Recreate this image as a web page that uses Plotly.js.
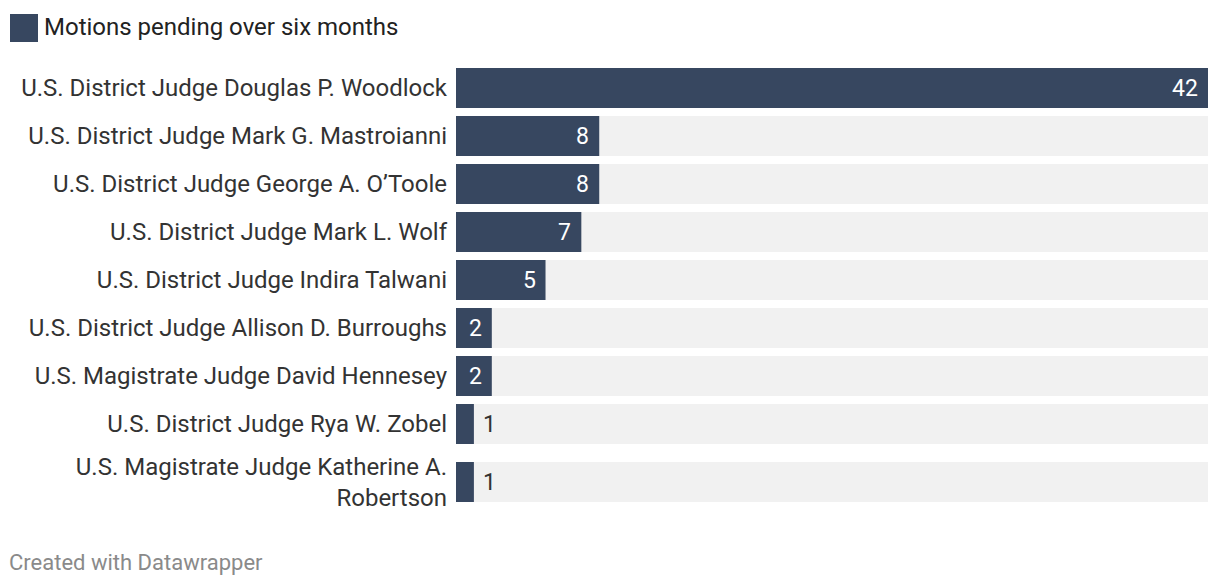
<!DOCTYPE html>
<html>
<head>
<meta charset="utf-8">
<script src="https://cdn.plot.ly/plotly-3.0.1.min.js"></script>
<style>
  html, body { margin: 0; padding: 0; background: #ffffff; }
  #chart { width: 1220px; height: 586px; }
</style>
</head>
<body>
<div id="chart"></div>
<script>
// ---- data ----
const judges = [
  "U.S. District Judge Douglas P. Woodlock",
  "U.S. District Judge Mark G. Mastroianni",
  "U.S. District Judge George A. O’Toole",
  "U.S. District Judge Mark L. Wolf",
  "U.S. District Judge Indira Talwani",
  "U.S. District Judge Allison D. Burroughs",
  "U.S. Magistrate Judge David Hennesey",
  "U.S. District Judge Rya W. Zobel",
  "U.S. Magistrate Judge Katherine A.<br>Robertson"
];
const motionsPending = [42, 8, 8, 7, 5, 2, 2, 1, 1];
const seriesName = "Motions pending over six months";
const footerText = "Created with Datawrapper";

// ---- styles ----
const barColor = "#374760";
const bgColor = "#f1f1f1";
const fontFamily = "Roboto, 'Noto Sans', sans-serif";
const maxVal = Math.max(...motionsPending);

// row layout (in pixel-like units): fixed pitch, extra room per extra label line
const rowPitch = 48, extraLinePad = 10, barThickness = 40;
const rowPos = [];
judges.forEach((lbl, i) => {
  const extra = (lbl.split("<br>").length - 1) * extraLinePad;
  rowPos.push(i === 0 ? 0 : rowPos[i - 1] + rowPitch + extra);
});
const yMax = rowPos[rowPos.length - 1] + barThickness / 2;
const yMin = -barThickness / 2;

const bgTrace = {
  type: "bar",
  orientation: "h",
  x: judges.map(() => maxVal),
  y: rowPos,
  marker: { color: bgColor },
  width: barThickness,
  hoverinfo: "skip",
  showlegend: false
};

const mainTrace = {
  type: "bar",
  orientation: "h",
  name: seriesName,
  x: motionsPending,
  y: rowPos,
  marker: { color: barColor },
  width: barThickness,
  showlegend: false
};

const insideThreshold = 2;
const valueAnnotations = motionsPending.map((v, i) => {
  const inside = v >= insideThreshold;
  return {
    x: v, y: rowPos[i], xref: "x", yref: "y",
    text: String(v), showarrow: false,
    xanchor: inside ? "right" : "left",
    xshift: inside ? -8 : 7,
    font: { family: fontFamily, size: 23, color: inside ? "#ffffff" : "#333333" }
  };
});

const layout = {
  width: 1220, height: 586,
  paper_bgcolor: "#ffffff", plot_bgcolor: "#ffffff",
  margin: { l: 456, r: 12, t: 68, b: 84 },
  barmode: "overlay",
  showlegend: false,
  font: { family: fontFamily, size: 24, color: "#333333" },
  xaxis: { range: [0, maxVal], visible: false, fixedrange: true },
  yaxis: {
    type: "linear",
    range: [yMax, yMin],
    tickmode: "array", tickvals: rowPos, ticktext: judges,
    showgrid: false, zeroline: false, showline: false,
    ticks: "", ticklabelstandoff: 8,
    tickfont: { family: fontFamily, size: 24, color: "#333333" },
    fixedrange: true
  },
  shapes: [{
    type: "rect", xref: "paper", yref: "paper",
    x0: 10, x1: 38, y0: -14, y1: -42,
    xsizemode: "pixel", ysizemode: "pixel",
    xanchor: -456 / 752, yanchor: 1 + 68 / 434,
    fillcolor: barColor, line: { width: 0 }
  }],
  annotations: valueAnnotations.concat([
    {
      xref: "paper", yref: "paper",
      x: (42 - 456) / 752, y: 1 + (68 - 27) / 434,
      xanchor: "left", yanchor: "middle",
      text: seriesName, showarrow: false,
      font: { family: fontFamily, size: 24, color: "#222222" }
    },
    {
      xref: "paper", yref: "paper",
      x: (7 - 456) / 752, y: -(562 - 502) / 434,
      xanchor: "left", yanchor: "middle",
      text: footerText, showarrow: false,
      font: { family: fontFamily, size: 22, color: "#8a8a8a" }
    }
  ])
};

Plotly.newPlot("chart", [bgTrace, mainTrace], layout, { displayModeBar: false, staticPlot: true });
</script>
</body>
</html>
